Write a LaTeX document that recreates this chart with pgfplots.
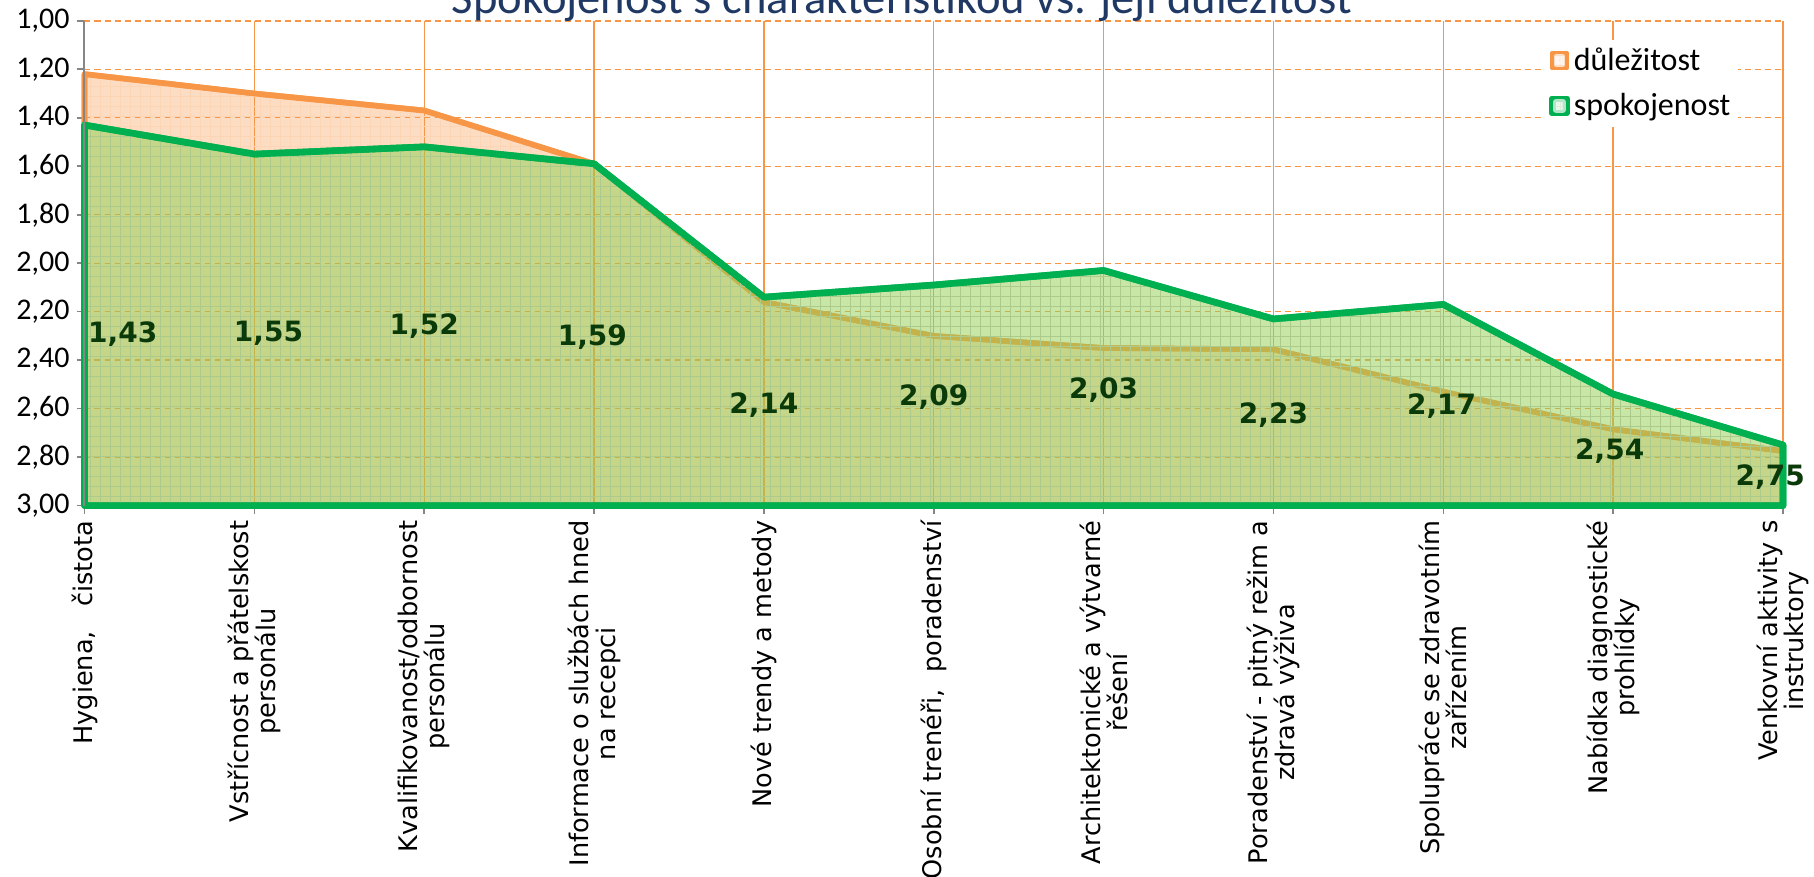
\documentclass[border=0pt]{standalone}
\usepackage{pgfplots}
\pgfplotsset{compat=1.18}
\usetikzlibrary{patterns.meta}
\usepackage{fontspec}
\setmainfont{DejaVu Sans}
\newfontfamily\carlito{Carlito}
\definecolor{orangeC}{HTML}{F79646}
\definecolor{greenL}{HTML}{00B050}
\definecolor{greenF}{HTML}{92D050}
\definecolor{lblgreen}{HTML}{0A3A0A}
\definecolor{titleC}{HTML}{1F3864}
\definecolor{axgray}{HTML}{868686}

\pgfplotstableread{
x y label
0.225 2.294 1,43
1.083 2.289 1,55
2.0 2.260 1,52
2.99 2.303 1,59
4.0 2.585 2,14
5.0 2.551 2,09
6.0 2.523 2,03
7.0 2.628 2,23
7.99 2.590 2,17
8.98 2.776 2,54
9.925 2.881 2,75
}\labels

\begin{document}
\begin{tikzpicture}
\begin{axis}[name=ax, scale only axis, width=849.25pt, height=242.4pt,
  xmin=0, xmax=10, ymin=1, ymax=3, y dir=reverse,
  clip=false,
  axis line style={draw=none},
  tick align=outside, xtick pos=left, ytick pos=left,
  major tick length=4pt,
  tick style={axgray, line width=0.8pt},
  xtick={0,1,2,3,4,5,6,7,8,9,10},
  xticklabels={{Hygiena,\ \ \ čistota},
    {Vstřícnost a přátelskost\\personálu},
    {Kvalifikovanost/odbornost\\personálu},
    {Informace o službách hned\\na recepci},
    {Nové trendy a metody},
    {Osobní trenéři,\ \ poradenství},
    {Architektonické a výtvarné\\řešení},
    {Poradenství - pitný režim a\\zdravá výživa},
    {Spolupráce se zdravotním\\zařízením},
    {Nabídka diagnostické\\prohlídky},
    {Venkovní aktivity s\\instruktory}},
  xticklabel style={rotate=90, anchor=east, align=center,
    font=\fontsize{12.8}{13.4}\selectfont},
  ytick={1,1.2,1.4,1.6,1.8,2,2.2,2.4,2.6,2.8,3},
  yticklabel style={font=\carlito\fontsize{15}{18}\selectfont, /pgf/number format/.cd, fixed, fixed zerofill, precision=2, use comma, assume math mode=true},
  grid=major,
  x grid style={orangeC, line width=0.7pt},
  y grid style={orangeC, dashed, line width=0.7pt, dash pattern=on 3pt off 2pt},
  title={Spokojenost s charakteristikou vs. její důležitost},
  every axis title/.style={font=\carlito\fontsize{23.3}{28}\selectfont, color=titleC, at={(0.4813,1)}, anchor=base, yshift=3.9pt},
  legend style={draw=none, fill=white, at={(0.974,0.962)}, anchor=north east,
    font=\carlito\fontsize{16}{19}\selectfont, row sep=6pt, inner sep=2pt},
  legend cell align=left,
]
\addplot[draw=orangeC, line width=2.8pt, line join=round, fill=orangeC, fill opacity=0.33,
  postaction={pattern={Hatch[angle=0,distance=5pt,line width=0.5pt]}, pattern color=orangeC!40},
  legend image code/.code={\fill[orangeC] (0pt,-3.5pt) rectangle (7pt,3.5pt); \fill[white, opacity=0.45] (2pt,-2pt) rectangle (5pt,2pt);}]
  table[x=x, y=y] {
x y
0 3
0 1.22
1 1.30
2 1.37
3 1.59
4 2.16
5 2.30
6 2.35
7 2.355
8 2.53
9 2.685
10 2.775
10 3
} -- cycle;
\addlegendentry{důležitost}
\addplot[draw=greenL, line width=3.3pt, line join=round, fill=greenF, fill opacity=0.5,
  postaction={pattern={Hatch[angle=0,distance=5pt,line width=0.5pt]}, pattern color=greenF!80!black!60},
  legend image code/.code={\fill[greenL] (0pt,-3.5pt) rectangle (7pt,3.5pt); \fill[white, opacity=0.45] (2pt,-2pt) rectangle (5pt,2pt);}]
  table[x=x, y=y] {
x y
0 3
0 1.43
1 1.55
2 1.52
3 1.59
4 2.14
5 2.09
6 2.03
7 2.23
8 2.17
9 2.54
10 2.75
10 3
} -- cycle;
\addlegendentry{spokojenost}
\addplot[draw=none, mark=none, nodes near coords, point meta=explicit symbolic,
  nodes near coords align=center,
  every node near coord/.append style={font=\bfseries\fontsize{14}{16}\selectfont, text=lblgreen, anchor=center}]
  table[x=x, y=y, meta=label] {\labels};
\draw[axgray, line width=1pt] (axis cs:0,1) -- (axis cs:0,3);
\end{axis}
\pgfresetboundingbox
\path[use as bounding box] ([shift={(-42.25pt,-185.7pt)}]ax.south west) rectangle ([shift={(15.5pt,10.4pt)}]ax.north east);
\end{tikzpicture}
\end{document}
